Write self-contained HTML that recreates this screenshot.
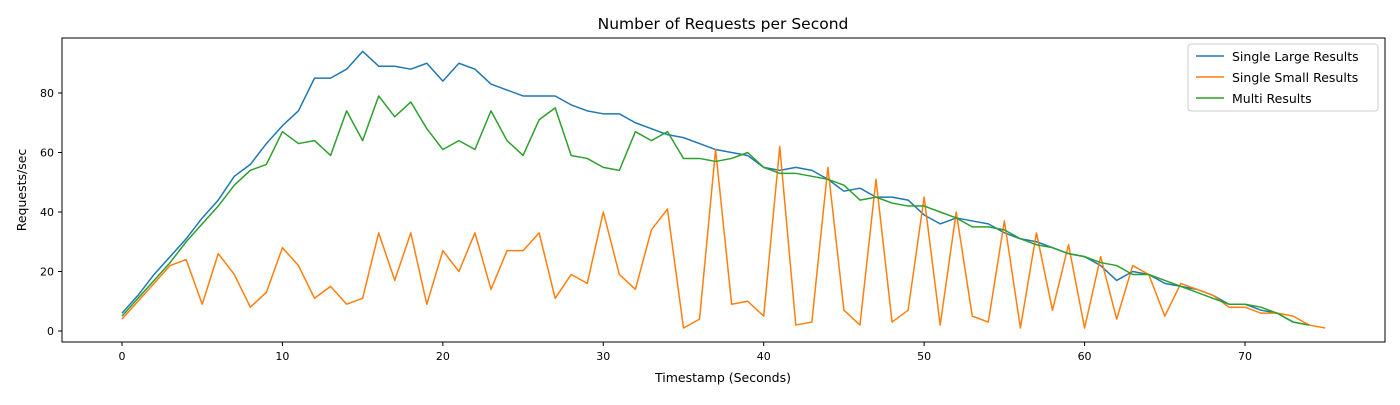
<!DOCTYPE html>
<html><head><meta charset="utf-8"><style>
body{margin:0;background:#fff;font-family:"Liberation Sans","DejaVu Sans",sans-serif}
svg text{font-family:"DejaVu Sans","Liberation Sans",sans-serif;fill:#000}
</style></head><body>
<svg id="chart" width="1400" height="400" xmlns="http://www.w3.org/2000/svg">
<rect width="1400" height="400" fill="#fff"/>
<text x="723" y="29" font-size="15.5" text-anchor="middle">Number of Requests per Second</text>
<g id="grid"></g>
<g id="lines"></g>
<rect x="62" y="38" width="1323" height="304" fill="none" stroke="#000" stroke-width="1"/>
<text x="723" y="382" font-size="12.5" text-anchor="middle">Timestamp (Seconds)</text>
<text transform="translate(26,190) rotate(-90)" font-size="12.5" text-anchor="middle">Requests/sec</text>
<g>
<rect x="1188" y="44" width="190" height="67" fill="#fff" fill-opacity="0.8" stroke="#ccc" rx="3"/>
<line x1="1196" y1="56" x2="1224" y2="56" stroke="#1f77b4" stroke-width="1.5"/>
<text x="1232" y="61" font-size="12.5">Single Large Results</text>
<line x1="1196" y1="77" x2="1224" y2="77" stroke="#ff7f0e" stroke-width="1.5"/>
<text x="1232" y="82" font-size="12.5">Single Small Results</text>
<line x1="1196" y1="98" x2="1224" y2="98" stroke="#2ca02c" stroke-width="1.5"/>
<text x="1232" y="103" font-size="12.5">Multi Results</text>
</g>
</svg>
<script>
const xTicks=[0,10,20,30,40,50,60,70];
const yTicks=[0,20,40,60,80];
const largeValues=[6,12,19,25,31,38,44,52,56,63,69,74,85,85,88,94,89,89,88,90,84,90,88,83,81,79,79,79,76,74,73,73,70,68,66,65,63,61,60,59,55,54,55,54,51,47,48,45,45,44,39,36,38,37,36,33,31,30,28,26,25,22,17,20,19,16,15,14,12,9,9,7,6,3,2];
const smallValues=[4,10,16,22,24,9,26,19,8,13,28,22,11,15,9,11,33,17,33,9,27,20,33,14,27,27,33,11,19,16,40,19,14,34,41,1,4,61,9,10,5,62,2,3,55,7,2,51,3,7,45,2,40,5,3,37,1,33,7,29,1,25,4,22,19,5,16,14,12,8,8,6,6,5,2,1];
const multiValues=[5,11,17,23,30,36,42,49,54,56,67,63,64,59,74,64,79,72,77,68,61,64,61,74,64,59,71,75,59,58,55,54,67,64,67,58,58,57,58,60,55,53,53,52,51,49,44,45,43,42,42,40,38,35,35,34,31,29,28,26,25,23,22,19,19,17,15,13,11,9,9,8,6,3,2];
const NS='http://www.w3.org/2000/svg';
const xs=v=>122+v*(1245-122)/70;
const ys=v=>331-v*(331-93)/80;
const grid=document.getElementById('grid');
function mk(t,a){const e=document.createElementNS(NS,t);for(const k in a)e.setAttribute(k,a[k]);return e;}
xTicks.forEach(t=>{
 const l=mk('line',{x1:xs(t),x2:xs(t),y1:342,y2:346,stroke:'#000'});
 
 
 grid.appendChild(l);
 const tx=mk('text',{x:xs(t),y:360,'font-size':11,'text-anchor':'middle'});
 
 
 tx.textContent=t;grid.appendChild(tx);
});
yTicks.forEach(t=>{
 const l=mk('line',{x1:58,x2:62,y1:ys(t),y2:ys(t),stroke:'#000'});
 
 
 grid.appendChild(l);
 const tx=mk('text',{x:54,y:ys(t)+4,'font-size':11,'text-anchor':'end'});
 
 
 tx.textContent=t;grid.appendChild(tx);
});
const lines=document.getElementById('lines');
[[largeValues,'#1f77b4','line-single-large'],[smallValues,'#ff7f0e','line-single-small'],[multiValues,'#2ca02c','line-multi']].forEach(([d,c,n])=>{
 const p=mk('polyline',{points:d.map((v,i)=>xs(i)+','+ys(v)).join(' '),fill:'none',stroke:c,'stroke-width':1.5,'stroke-linejoin':'round'});
 
 
 lines.appendChild(p);
});
</script>
</body></html>
